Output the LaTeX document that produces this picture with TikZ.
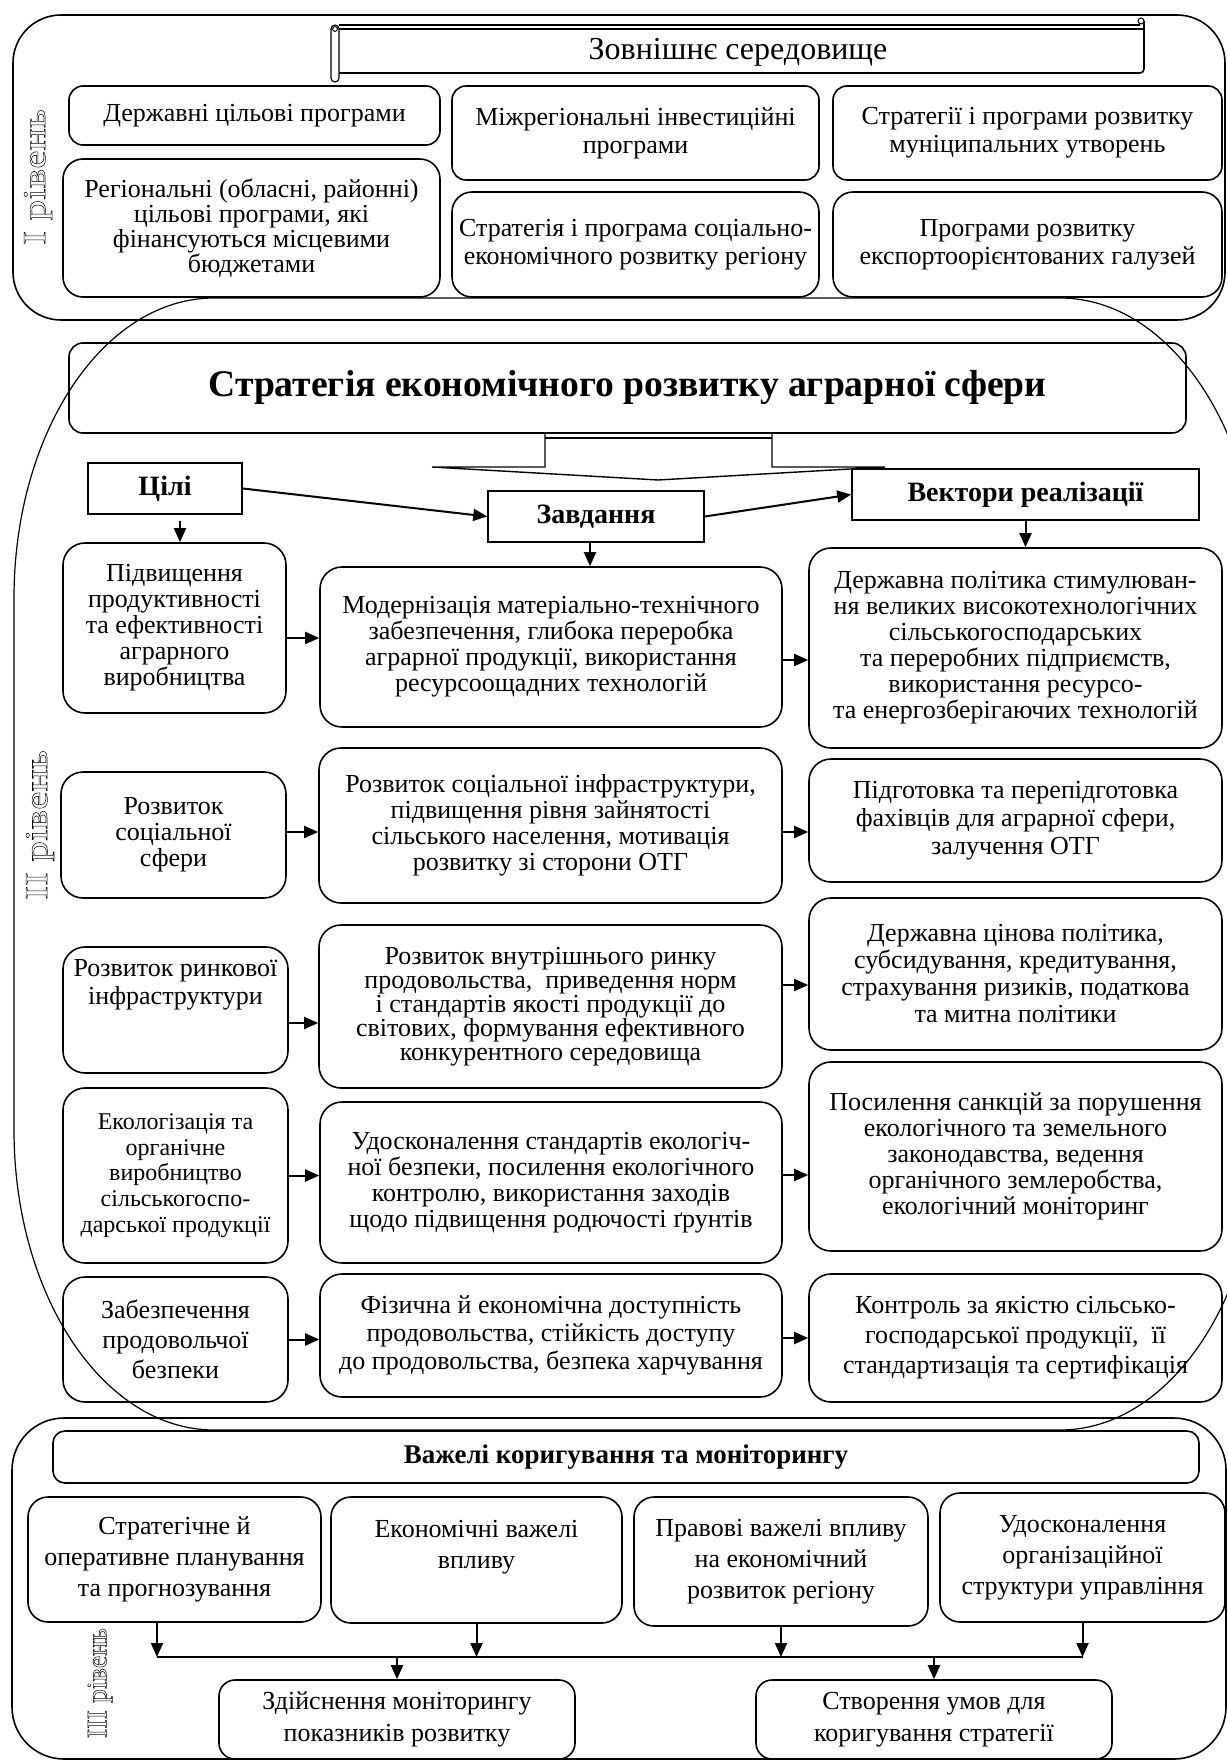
\documentclass[tikz,border=0pt]{standalone}
\usepackage{fontspec}
\setmainfont{Liberation Serif}
\newfontfamily\levelfont{Liberation Serif}[FakeStretch=1.3]
\usepackage{tikz}
\usetikzlibrary{
    arrows.meta
}

% hollow letters for the level labels
\newcommand{\outlined}[1]{\special{pdf:literal direct 1 Tr 0.25 w}#1\special{pdf:literal direct 0 Tr}}

\begin{document}
\begin{tikzpicture}[
        x=1pt, y=-1pt,
        frame/.style={
            draw,
            line width=0.8pt
        },
        prog/.style={
            rectangle,
            rounded corners=7pt,
            draw,
            line width=0.8pt,
            align=center,
            inner sep=1pt,
            font=\fontsize{13}{14}\selectfont
        },
        box/.style={
            rectangle,
            rounded corners=11pt,
            draw,
            line width=0.8pt,
            align=center,
            inner sep=1pt,
            font=\fontsize{13}{13}\selectfont
        },
        head/.style={
            rectangle,
            draw,
            line width=0.8pt,
            align=center,
            font=\fontsize{14}{14}\selectfont\bfseries
        },
        lever/.style={
            box,
            rounded corners=10pt,
            font=\fontsize{13}{15.5}\selectfont
        },
        tier/.style={
            rotate=90,
            font=\fontsize{16}{16}\levelfont
        },
        line/.style={
            -{Triangle[length=7pt,width=6pt]},
            line width=1pt
        }
    ]

    \useasboundingbox (0,0) rectangle (613.5,880);
    \clip (0,0) rectangle (613.5,880);

    % I level
    \draw[frame, rounded corners=24pt] (6.5,7.5) rectangle (612.5,160);
    \node[tier] (tierone) at (19,88.5) {\outlined{I рівень}};

    \draw[line width=0.6pt] (169.5,12.5) -- (570,12.5);
    \draw[line width=0.6pt] (169.5,14.5) -- (572,14.5);
    \draw[line width=0.8pt, rounded corners=2pt] (572,10.5) -- (572,36.5) -- (169.5,36.5);
    \draw[line width=0.6pt, rounded corners=2pt] (165.5,12.5) rectangle (169.5,41);
    \draw[line width=0.5pt] (167.5,14.5) circle (1.2pt);
    \draw[line width=0.5pt] (570.5,10.5) circle (1.5pt);
    \node[font=\fontsize{16}{16}\selectfont] (env) at (369,26) {Зовнішнє середовище};

    \node[prog, minimum width=185.5pt, minimum height=29.5pt] (stateprog) at (127.25,57.75) {Державні цільові програми};
    \node[prog, minimum width=183.5pt, minimum height=47pt] (interreg) at (317.75,66.5) {Міжрегіональні інвестиційні\\програми};
    \node[prog, minimum width=194.5pt, minimum height=47pt] (municipal) at (513.75,66.5) {Стратегії і програми розвитку\\муніципальних утворень};
    \node[prog, rounded corners=10pt, minimum width=188.5pt, minimum height=69pt, font=\fontsize{13}{12.5}\selectfont] (regional) at (125.75,114) {Регіональні (обласні, районні)\\цільові програми, які\\фінансуються місцевими\\бюджетами};
    \node[prog, rounded corners=10pt, minimum width=183.5pt, minimum height=52.5pt] (socecon) at (317.75,122.25) {Стратегія і програма соціально-\\економічного розвитку регіону};
    \node[prog, rounded corners=10pt, minimum width=194.5pt, minimum height=52.5pt] (export) at (513.75,122.25) {Програми розвитку\\експортоорієнтованих галузей};

    % II level
    \draw[line width=0.6pt] (107,149) -- (530,149)
        .. controls (585.2,149) and (630,216.2) .. (630,299)
        -- (630,565)
        .. controls (630,647.8) and (585.2,715) .. (530,715)
        -- (107,715)
        .. controls (51.8,715) and (7,647.8) .. (7,565)
        -- (7,299)
        .. controls (7,216.2) and (51.8,149) .. (107,149) -- cycle;
    \node[tier] (tiertwo) at (20,412.5) {\outlined{II рівень}};

    \node[box, rounded corners=7pt, minimum width=558.5pt, minimum height=45pt, font=\fontsize{18.8}{20}\selectfont\bfseries] (strategy) at (313.75,194) {Стратегія економічного розвитку аграрної сфери};

    \draw[line width=0.7pt] (272.5,216.5) -- (272.5,233.5) -- (216,233.5) -- (329,240) -- (442.5,233.5) -- (386,233.5) -- (386,216.5);
    \draw[line width=1.2pt] (272.5,219) -- (386,219);

    \node[head, minimum width=77pt, minimum height=25.5pt] (goals) at (82.5,244.25) {Цілі};
    \node[head, minimum width=108pt, minimum height=25.5pt] (tasks) at (298,258.25) {Завдання};
    \node[head, minimum width=173.5pt, minimum height=25.5pt] (vectors) at (512.75,247.25) {Вектори реалізації};

    \node[box, minimum width=111.5pt, minimum height=85pt] (productivity) at (87.25,314) {Підвищення\\продуктивності\\та ефективності\\аграрного\\виробництва};
    \node[box, minimum width=231pt, minimum height=80pt] (modernization) at (275.5,323.5) {Модернізація матеріально-технічного\\забезпечення, глибока переробка\\аграрної продукції, використання\\ресурсоощадних технологій};
    \node[box, minimum width=206.5pt, minimum height=100pt] (stimulation) at (507.75,324) {Державна політика стимулюван-\\ня великих високотехнологічних\\сільськогосподарських\\та переробних підприємств,\\використання ресурсо-\\та енергозберігаючих технологій};

    \node[box, minimum width=112.5pt, minimum height=63pt] (social) at (86.75,417.5) {Розвиток\\соціальної\\сфери};
    \node[box, minimum width=231.5pt, minimum height=77.5pt] (infrastructure) at (275.25,412.75) {Розвиток соціальної інфраструктури,\\підвищення рівня зайнятості\\сільського населення, мотивація\\розвитку зі сторони ОТГ};
    \node[box, minimum width=206.5pt, minimum height=61.5pt, font=\fontsize{13}{14}\selectfont] (training) at (507.75,410.25) {Підготовка та перепідготовка\\фахівців для аграрної сфери,\\залучення ОТГ};

    \node[box, minimum width=112.5pt, minimum height=63pt, font=\fontsize{13}{14}\selectfont] (market) at (87.75,505) {Розвиток ринкової\\інфраструктури\\~\\~};
    \node[box, minimum width=231.5pt, minimum height=81.5pt, font=\fontsize{13}{12}\selectfont] (domestic) at (275.25,503.25) {Розвиток внутрішнього ринку\\продовольства,~ приведення норм\\і стандартів якості продукції до\\світових, формування ефективного\\конкурентного середовища};
    \node[box, minimum width=206.5pt, minimum height=76pt, font=\fontsize{13}{13.5}\selectfont] (pricing) at (507.75,487) {Державна цінова політика,\\субсидування, кредитування,\\страхування ризиків, податкова\\та митна політики};

    \node[box, minimum width=112.5pt, minimum height=87.5pt, font=\fontsize{12}{12.8}\selectfont] (ecology) at (87.75,587.75) {Екологізація та\\органічне\\виробництво\\сільськогоспо-\\дарської продукції};
    \node[box, minimum width=231pt, minimum height=80.5pt] (standards) at (275.5,591.25) {Удосконалення стандартів екологіч-\\ної безпеки, посилення екологічного\\контролю, використання заходів\\щодо підвищення родючості ґрунтів};
    \node[box, minimum width=206.5pt, minimum height=94.5pt] (sanctions) at (507.75,578.25) {Посилення санкцій за порушення\\екологічного та земельного\\законодавства, ведення\\органічного землеробства,\\екологічний моніторинг};

    \node[box, minimum width=112.5pt, minimum height=62.5pt, font=\fontsize{13}{15}\selectfont] (foodsec) at (87.75,669.75) {Забезпечення\\продовольчої\\безпеки};
    \node[box, minimum width=231pt, minimum height=61.5pt, font=\fontsize{13}{14}\selectfont] (access) at (275.5,667.75) {Фізична й економічна доступність\\продовольства, стійкість доступу\\до продовольства, безпека харчування};
    \node[box, minimum width=206.5pt, minimum height=64pt, font=\fontsize{13}{15}\selectfont] (quality) at (507.75,669) {Контроль за якістю сільсько-\\господарської продукції,~ її\\стандартизація та сертифікація};

    \draw[line] (goals.east) -- (tasks.west);
    \draw[line] (tasks.east) -- (vectors.west);
    \draw[line] ([xshift=7.5pt,yshift=-3pt]goals.south) -- ([xshift=2.75pt]productivity.north);
    \draw[line] ([xshift=-3pt]tasks.south) coordinate (ts) -- (ts |- modernization.north);
    \draw[line] (vectors.south) -- (vectors.south |- stimulation.north);

    \draw[line] ([yshift=-5pt]productivity.east) coordinate (pa) -- (pa -| modernization.west);
    \draw[line] ([yshift=-6.5pt]modernization.east) coordinate (pb) -- (pb -| stimulation.west);
    \draw[line] ([yshift=1.5pt]social.east) coordinate (pc) -- (pc -| infrastructure.west);
    \draw[line] ([yshift=-3.25pt]infrastructure.east) coordinate (pd) -- (pd -| training.west);
    \draw[line] ([yshift=-6.5pt]market.east) coordinate (pe) -- (pe -| domestic.west);
    \draw[line] ([yshift=10.75pt]domestic.east) coordinate (pf) -- (pf -| pricing.west);
    \draw[line] (ecology.east) -- (ecology.east -| standards.west);
    \draw[line] ([yshift=3.75pt]standards.east) coordinate (pg) -- (pg -| sanctions.west);
    \draw[line] (foodsec.east) -- (foodsec.east -| access.west);
    \draw[line] ([yshift=-1.25pt]access.east) coordinate (ph) -- (ph -| quality.west);

    % III level
    \draw[frame, rounded corners=26pt] (6,709) rectangle (613,879.5);
    \node[tier, font=\fontsize{14}{14}\selectfont] (tierthree) at (50,841.5) {\outlined{III рівень}};

    \node[box, rounded corners=6pt, minimum width=573pt, minimum height=26pt, font=\fontsize{13.5}{14}\selectfont\bfseries] (levers) at (313,728.5) {Важелі коригування та моніторингу};

    \node[lever, minimum width=146.5pt, minimum height=62.5pt] (planning) at (87.25,779.75) {Стратегічне й\\оперативне планування\\та прогнозування};
    \node[lever, minimum width=145.5pt, minimum height=63pt] (economic) at (238.25,780) {Економічні важелі\\впливу\\~};
    \node[lever, minimum width=147pt, minimum height=64.5pt] (legal) at (390.5,780.75) {Правові важелі впливу\\на економічний\\розвиток регіону};
    \node[lever, minimum width=142.5pt, minimum height=64.5pt] (orgstruct) at (541.25,778.75) {Удосконалення\\організаційної\\структури управління};

    \node[lever, rounded corners=8pt, minimum width=178pt, minimum height=39.5pt, font=\fontsize{13}{16}\selectfont] (monitoring) at (198.5,859.75) {Здійснення моніторингу\\показників розвитку};
    \node[lever, rounded corners=8pt, minimum width=178pt, minimum height=39.5pt, font=\fontsize{13}{16}\selectfont] (correction) at (467,859.75) {Створення умов для\\коригування стратегії};

    \coordinate (bus) at (0,828.5);
    \draw[line] ([xshift=-8.75pt]planning.south) coordinate (qa) -- (qa |- bus);
    \draw[line] (economic.south) -- (economic.south |- bus);
    \draw[line] (legal.south) -- (legal.south |- bus);
    \draw[line] (orgstruct.south) -- (orgstruct.south |- bus);
    \draw[line width=1pt] (qa |- bus) -- (orgstruct.south |- bus);
    \draw[line] (monitoring.north |- bus) -- (monitoring.north);
    \draw[line] (correction.north |- bus) -- (correction.north);

\end{tikzpicture}
\end{document}
